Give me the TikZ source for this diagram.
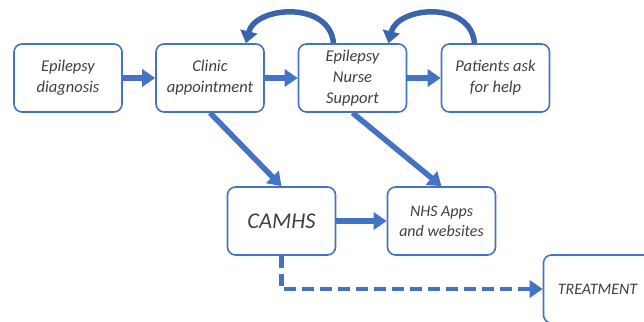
\documentclass[tikz,border=0pt]{standalone}
\usepackage{fontspec}
\setmainfont{Carlito}
\usetikzlibrary{arrows.meta}

\definecolor{boxblue}{HTML}{4472C4}
\definecolor{arcblue}{HTML}{3A64AE}
\definecolor{txtgray}{HTML}{404040}

\begin{document}
\begin{tikzpicture}[x=1pt, y=-1pt,
    % Define styles for boxes and arrows
    stage/.style={rectangle, draw=boxblue, line width=1.6pt, rounded corners=8pt, fill=white,
        minimum width=108pt, minimum height=68pt, inner sep=2pt, align=center,
        text=txtgray, font=\itshape\fontsize{16.5}{21}\selectfont},
    flow/.style={-{Triangle[length=13pt,width=17pt]}, boxblue, line width=5.5pt},
    backarc/.style={-{Triangle[length=12pt,width=17pt]}, arcblue, line width=5.5pt},
    dashflow/.style={flow, line width=4.5pt, dash pattern=on 12pt off 6pt}
]
    \useasboundingbox (0,0) rectangle (644,321);
    \clip (0,0) rectangle (644,321);

    % Top row
    \node[stage] (diag) at (68,78) {Epilepsy\\diagnosis};
    \node[stage] (clinic) at (210,78) {Clinic\\appointment};
    \node[stage] (nurse) at (352.5,78) {Epilepsy\\Nurse\\Support};
    \node[stage] (patients) at (495.5,78) {Patients ask\\for help};

    % Second row
    \node[stage, font=\itshape\fontsize{22.5}{26}\selectfont] (camhs) at (281.5,221) {CAMHS};
    \node[stage, font=\itshape\fontsize{16}{20}\selectfont] (nhs) at (441.5,221) {NHS Apps\\and websites};

    % Treatment (cut by the edge)
    \node[stage, font=\itshape\fontsize{16}{20}\selectfont] (treat) at (597.5,289) {TREATMENT};

    % Straight connections
    \draw[flow] (diag) -- (clinic);
    \draw[flow] (clinic) -- (nurse);
    \draw[flow] (nurse) -- (patients);
    \draw[flow] (clinic.south) -- (camhs.north);
    \draw[flow] (nurse.south) -- (nhs.north);
    \draw[flow] (camhs) -- (nhs);

    % Dashed route to treatment
    \draw[dashflow] (camhs.south) |- (treat.west);

    % Curved arrows back
    \draw[backarc] ([xshift=-19pt]nurse.north) .. controls +(-4,-43) and +(9,-37) .. ([xshift=36pt]clinic.north);
    \draw[backarc] ([xshift=-21pt]patients.north) .. controls +(-4,-43) and +(9,-37) .. ([xshift=36pt]nurse.north);

\end{tikzpicture}
\end{document}
